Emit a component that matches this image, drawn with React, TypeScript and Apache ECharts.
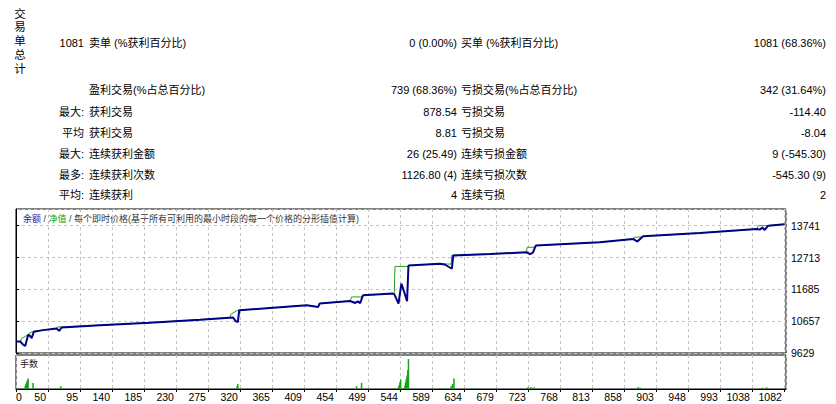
import React, { useEffect, useRef } from "react";
import * as echarts from "echarts";

// ---------- data ----------
const verticalTitle = ["交", "易", "单", "总", "计"];
const rowPrefixes = ["1081", "", "最大:", "平均", "最大:", "最多:", "平均:"];
const leftLabels = [
  "卖单 (%获利百分比)",
  "盈利交易(%占总百分比)",
  "获利交易",
  "获利交易",
  "连续获利金额",
  "连续获利次数",
  "连续获利",
];
const leftValues = ["0 (0.00%)", "739 (68.36%)", "878.54", "8.81", "26 (25.49)", "1126.80 (4)", "4"];
const rightLabels = [
  "买单 (%获利百分比)",
  "亏损交易(%占总百分比)",
  "亏损交易",
  "亏损交易",
  "连续亏损金额",
  "连续亏损次数",
  "连续亏损",
];
const rightValues = ["1081 (68.36%)", "342 (31.64%)", "-114.40", "-8.04", "9 (-545.30)", "-545.30 (9)", "2"];

const chartTitleBalance = "余额";
const chartTitleEquity = "净值";
const chartTitleRest = "每个即时价格(基于所有可利用的最小时段的每一个价格的分形插值计算)";
const lotsTitle = "手数";

const xTickLabels = [
  "0", "50", "95", "140", "185", "230", "275", "320", "365", "409", "454", "499", "544",
  "589", "634", "679", "723", "768", "813", "858", "903", "948", "993", "1038", "1082",
];
const xTickStep = 45;
const xMax = 1083;
const yTickStart = 9629;
const yTickStep = 1028;
const yMax = 14280;

// balance curve [trade index, balance]
const balance: [number, number][] = [
  [0, 10000], [6, 10000], [10, 9900], [13, 9854], [17, 10207], [19, 10200], [22, 10111], [25, 10313],
  [38, 10368], [57, 10422], [59, 10380], [61, 10345], [64, 10455], [118, 10528], [188, 10609],
  [259, 10705], [305, 10776], [309, 10660], [312, 10625], [314, 11010], [357, 11084], [409, 11171],
  [425, 11116], [427, 11226], [470, 11309], [477, 11245], [481, 11299], [484, 11235], [488, 11492],
  [530, 11547], [532, 11530], [538, 11226], [542, 11868], [546, 11600], [550, 11300], [552, 12456],
  [596, 12511], [603, 12488], [613, 12350], [615, 12777], [667, 12825], [718, 12883], [723, 12825],
  [727, 12874], [731, 13098], [821, 13205], [868, 13314], [874, 13227], [882, 13397], [962, 13506],
  [1042, 13635], [1046, 13613], [1050, 13677], [1053, 13603], [1058, 13741], [1081, 13790],
];

// equity curve [trade index, equity]
const equity: [number, number][] = [
  [0, 10000], [6, 10000], [8, 10100], [13, 10170], [17, 10210], [19, 10280], [25, 10330],
  [38, 10368], [57, 10422], [58, 10470], [64, 10470], [118, 10528], [188, 10609], [259, 10705],
  [301, 10770], [302, 10880], [312, 11010], [314, 11010], [357, 11084], [409, 11171], [425, 11116],
  [427, 11226], [470, 11309], [472, 11440], [487, 11440], [488, 11492], [530, 11547], [532, 11547],
  [533, 12424], [551, 12424], [552, 12456], [596, 12511], [612, 12500], [613, 12790], [615, 12790],
  [667, 12825], [718, 12883], [719, 13044], [731, 13044], [731, 13098], [821, 13205], [868, 13314],
  [869, 13365], [881, 13380], [882, 13397], [962, 13506], [1042, 13635], [1044, 13741],
  [1058, 13741], [1081, 13790],
];

// lots per trade [trade index, lots]
const lots: [number, number][] = [
  [13, 0.09], [14, 0.15], [15, 0.2], [16, 0.26], [17, 0.31], [24, 0.18], [63, 0.08],
  [311, 0.09], [312, 0.15], [427, 0.03], [479, 0.08], [486, 0.18],
  [538, 0.06], [539, 0.12], [540, 0.2], [541, 0.28], [547, 0.1], [548, 0.2], [549, 0.3],
  [550, 0.4], [551, 0.55], [552, 0.88], [600, 0.02], [606, 0.03], [612, 0.08], [614, 0.15],
  [616, 0.31], [645, 0.02], [720, 0.05], [724, 0.06], [729, 0.05], [875, 0.06], [878, 0.04],
  [1050, 0.04], [1056, 0.05],
];

// ---------- component ----------
const FONT = '"Liberation Sans", "Noto Sans CJK SC", sans-serif';

export default function App() {
  const ref = useRef<HTMLDivElement>(null);

  useEffect(() => {
    if (!ref.current) return;
    const chart = echarts.init(ref.current, null, { renderer: "svg" });

    const rowY = [43, 90, 112, 133, 154, 174.5, 195];
    const txt = (text: string, x: number, y: number, align: string, size = 11, fill = "#000") => ({
      type: "text",
      x,
      y,
      silent: true,
      style: { text, fill, fontSize: size, fontFamily: FONT, align, verticalAlign: "middle" },
    });

    const graphics: any[] = [];
    verticalTitle.forEach((c, i) => graphics.push(txt(c, 20, 13.5 + i * 13.8, "center", 11.5)));
    rowPrefixes.forEach((t, i) => t && graphics.push(txt(t, 84, rowY[i], "right")));
    leftLabels.forEach((t, i) => graphics.push(txt(t, 89, rowY[i], "left")));
    leftValues.forEach((t, i) => graphics.push(txt(t, 457, rowY[i], "right")));
    rightLabels.forEach((t, i) => graphics.push(txt(t, 461, rowY[i], "left")));
    rightValues.forEach((t, i) => graphics.push(txt(t, 826, rowY[i], "right")));

    graphics.push({
      type: "text",
      x: 23,
      y: 218.5,
      silent: true,
      style: {
        text: `{b|${chartTitleBalance}} / {g|${chartTitleEquity}} / ${chartTitleRest}`,
        fill: "#333",
        fontSize: 9,
        fontFamily: FONT,
        verticalAlign: "middle",
        rich: {
          b: { fill: "#2020a0", fontSize: 9, fontFamily: FONT },
          g: { fill: "#10a010", fontSize: 9, fontFamily: FONT },
        },
      },
    });
    graphics.push(txt(lotsTitle, 20, 364, "left", 9, "#222"));

    const gridLine = { show: true, lineStyle: { color: "#c4c4c4", type: [3, 3], width: 1 } };
    const xFormatter = (v: number) => {
      const k = v / xTickStep;
      if (Math.abs(k - Math.round(k)) > 1e-6) return "";
      return xTickLabels[Math.round(k)] ?? "";
    };

    chart.setOption({
      animation: false,
      backgroundColor: "#fff",
      grid: [
        { left: 16, top: 209, width: 770, height: 144, show: true, borderColor: "#000", borderWidth: 1 },
        { left: 16, top: 355, width: 770, height: 34, show: true, borderColor: "#000", borderWidth: 1 },
      ],
      xAxis: [
        {
          gridIndex: 0,
          type: "value",
          min: 0,
          max: xMax,
          interval: xTickStep,
          axisLine: { show: false },
          axisTick: { show: false },
          axisLabel: { show: false },
          splitLine: gridLine,
        },
        {
          gridIndex: 1,
          type: "value",
          min: 0,
          max: xMax,
          interval: xTickStep,
          axisLine: { show: true, lineStyle: { color: "#000" } },
          axisTick: { show: true, length: 3, lineStyle: { color: "#000" } },
          axisLabel: {
            show: true,
            formatter: xFormatter,
            align: "right",
            alignMinLabel: "left",
            margin: 3,
            padding: [0, 2, 0, 0],
            fontSize: 10.5,
            fontFamily: FONT,
            color: "#000",
            showMaxLabel: false,
          },
          splitLine: gridLine,
        },
      ],
      yAxis: [
        {
          gridIndex: 0,
          type: "value",
          position: "right",
          min: yTickStart,
          max: yMax,
          interval: yTickStep,
          axisLine: { show: true, lineStyle: { color: "#000" } },
          axisTick: { show: true, length: 3, lineStyle: { color: "#000" } },
          axisLabel: {
            show: true,
            margin: 5,
            fontSize: 10.5,
            fontFamily: FONT,
            color: "#000",
            showMaxLabel: false,
            showMinLabel: true,
            formatter: (v: number) => String(Math.round(v)),
          },
          splitLine: gridLine,
        },
        { gridIndex: 1, type: "value", min: 0, max: 1, show: false, splitLine: { show: false } },
      ],
      series: [
        {
          type: "line",
          xAxisIndex: 0,
          yAxisIndex: 0,
          data: equity,
          showSymbol: false,
          lineStyle: { color: "#22a022", width: 1 },
          z: 2,
        },
        {
          type: "line",
          xAxisIndex: 0,
          yAxisIndex: 0,
          data: balance,
          showSymbol: false,
          lineStyle: { color: "#000088", width: 2 },
          z: 3,
        },
        {
          type: "bar",
          xAxisIndex: 1,
          yAxisIndex: 1,
          data: lots,
          barWidth: 1.5,
          itemStyle: { color: "#1aa01a" },
        },
      ],
      graphic: graphics,
    });

    return () => chart.dispose();
  }, []);

  return (
    <div
      ref={ref}
      style={{ position: "fixed", left: 0, top: 0, width: 836, height: 404 }}
    />
  );
}
